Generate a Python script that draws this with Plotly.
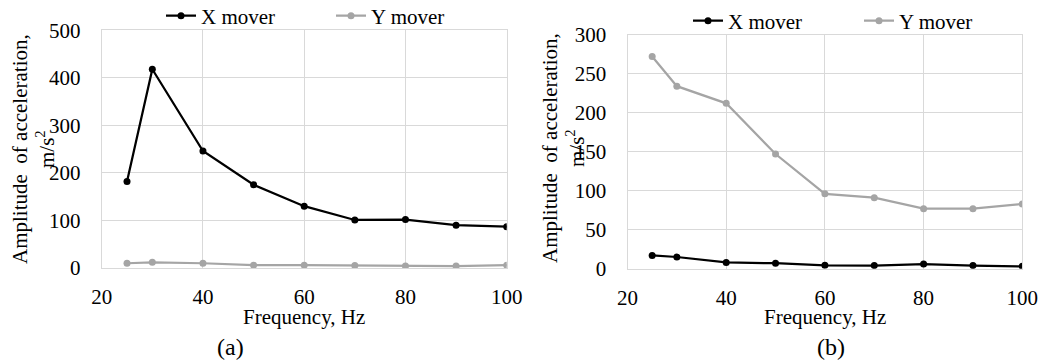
import plotly.graph_objects as go

# Excitation frequencies, Hz
freq = [25, 30, 40, 50, 60, 70, 80, 90, 100]

# (a) acceleration amplitude, m/s^2
a_x_mover = [182, 418, 246, 175, 130, 101, 102, 90, 87]
a_y_mover = [10, 12, 10, 6, 6, 5, 4, 4, 6]

# (b) acceleration amplitude, m/s^2
b_x_mover = [17, 15, 8, 7, 4.3, 4, 6, 4, 3]
b_y_mover = [272, 234, 212, 147, 96, 91, 77, 77, 83]

x_ticks = [20, 40, 60, 80, 100]
a_y_ticks = [0, 100, 200, 300, 400, 500]
b_y_ticks = [0, 50, 100, 150, 200, 250, 300]

W, H = 1050, 360
FONT = "'Liberation Serif', 'Times New Roman', Times, serif"
FS = 21
BLACK = "#000000"
GREY = "#a5a5a5"
GRID = "#d9d9d9"


def px_x(p):
    return p / W


def px_y(p):
    return 1 - p / H


fig = go.Figure()

line_style = dict(width=2.25)
fig.add_trace(go.Scatter(x=freq, y=a_x_mover, name="X mover", mode="lines+markers",
                         line=dict(color=BLACK, **line_style),
                         marker=dict(color=BLACK, size=7),
                         xaxis="x", yaxis="y", legend="legend"))
fig.add_trace(go.Scatter(x=freq, y=a_y_mover, name="Y mover", mode="lines+markers",
                         line=dict(color=GREY, **line_style),
                         marker=dict(color=GREY, size=7),
                         xaxis="x", yaxis="y", legend="legend"))
fig.add_trace(go.Scatter(x=freq, y=b_x_mover, name="X mover", mode="lines+markers",
                         line=dict(color=BLACK, **line_style),
                         marker=dict(color=BLACK, size=7),
                         xaxis="x2", yaxis="y2", legend="legend2"))
fig.add_trace(go.Scatter(x=freq, y=b_y_mover, name="Y mover", mode="lines+markers",
                         line=dict(color=GREY, **line_style),
                         marker=dict(color=GREY, size=7),
                         xaxis="x2", yaxis="y2", legend="legend2"))

axis_common = dict(
    showgrid=True, gridcolor=GRID, gridwidth=1,
    showline=True, linecolor=GRID, linewidth=1, mirror=True,
    zeroline=False, ticks="", automargin=False,
    tickfont=dict(family=FONT, size=FS, color=BLACK),
    fixedrange=True,
)
x_common = dict(ticklabelstandoff=10, **axis_common)
y_common = dict(ticklabelstandoff=16, **axis_common)

legend_common = dict(orientation="h", xanchor="left", yanchor="middle",
                     entrywidthmode="pixels",
                     font=dict(family=FONT, size=FS, color=BLACK),
                     bgcolor="rgba(0,0,0,0)", borderwidth=0)

fig.update_layout(
    width=W, height=H,
    # fixed layout: nothing is allowed to grow the margins
    margin=dict(l=0, r=0, t=0, b=0, autoexpand=False),
    paper_bgcolor="white", plot_bgcolor="white",
    font=dict(family=FONT, size=FS, color=BLACK),
    xaxis=dict(domain=[px_x(101.7), px_x(506.7)], range=[20, 100],
               tickvals=x_ticks, anchor="y", **x_common),
    yaxis=dict(domain=[px_y(268), px_y(30.3)], range=[0, 500],
               tickvals=a_y_ticks, anchor="x", **y_common),
    xaxis2=dict(domain=[px_x(627.5), px_x(1022.3)], range=[20, 100],
                tickvals=x_ticks, anchor="y2", **x_common),
    yaxis2=dict(domain=[px_y(268.7), px_y(34.7)], range=[0, 300],
                tickvals=b_y_ticks, anchor="x2", **y_common),
    legend=dict(x=px_x(161), y=px_y(16), entrywidth=125, **legend_common),
    legend2=dict(x=px_x(688), y=px_y(21), entrywidth=126, **legend_common),
    showlegend=True,
)

title_text = "Amplitude  of acceleration,<br>m/s<sup>2</sup>"
annotations = [
    dict(text=title_text, x=px_x(33), y=px_y(149), textangle=-90),
    dict(text=title_text, x=px_x(563), y=px_y(148), textangle=-90),
    dict(text="Frequency, Hz", x=px_x(304), y=px_y(317)),
    dict(text="Frequency, Hz", x=px_x(825), y=px_y(317)),
    dict(text="(a)", x=px_x(230), y=px_y(347), font=dict(size=24)),
    dict(text="(b)", x=px_x(831), y=px_y(347), font=dict(size=24)),
]
for a in annotations:
    a.setdefault("font", dict(size=FS))
    a["font"].update(family=FONT, color=BLACK)
    fig.add_annotation(xref="paper", yref="paper", showarrow=False,
                       xanchor="center", yanchor="middle", **a)

fig.write_html("out.html")
